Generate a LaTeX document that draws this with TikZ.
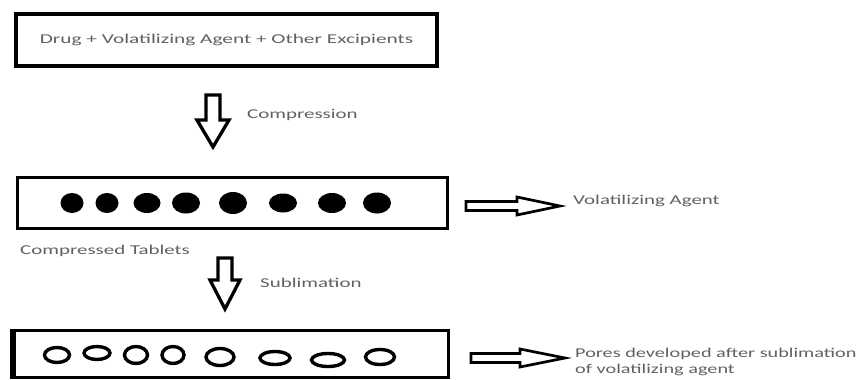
\documentclass[tikz,border=0pt]{standalone}
\usepackage{graphicx}
\usepackage{fontspec}
\setmainfont{Carlito}
\newcommand{\wide}[2][1.55]{\scalebox{#1}[1]{#2}}
\begin{document}
\begin{tikzpicture}[x=1pt,y=-1pt,
  box/.style={draw=black, line width=3.5pt, inner sep=0pt, text=black!62,
    font=\fontsize{13.5}{16}\selectfont},
  lbl/.style={text=black!62, font=\fontsize{13.5}{16}\selectfont, inner sep=0pt, anchor=west},
  blockarrow/.style={draw=black, line width=3.3pt, line join=miter, fill=white},
  pore/.style={draw=black, line width=3.4pt}]
\useasboundingbox (0,0) rectangle (863,380);

% boxes
\node[box, minimum width=421pt, minimum height=52pt] (mix) at (226.5,40)
  {\wide[1.58]{Drug + Volatilizing Agent + Other Excipients}};
\node[box, minimum width=430pt, minimum height=51pt, line width=3pt] (tab) at (232,202.5) {};
\node[box, minimum width=434pt, minimum height=47pt, line width=3pt] (por) at (231,354) {};
\draw[line width=4.5pt] (por.north west) -- (por.south west);

% filled dots (volatilizing agent)
\foreach \x/\rx/\ry in {72/11.5/10, 107/11.5/10, 147/13.5/10, 186/14/10.5, 233/14/11, 283/14/9.5, 332/14/10, 377/14/10.5}
  \fill (\x,203) ellipse [x radius=\rx, y radius=\ry];

% open pores
\foreach \x/\y/\rx/\ry in {57/355/12.5/7.5, 97/353/13/6.5, 136/355/11.5/8.5, 173/355/11/8.5, 220/357/14/8.5, 275/358/15/6.5, 328/360/16.5/6.5, 380/357/14.5/7.5}
  \draw[pore] (\x,\y) ellipse [x radius=\rx, y radius=\ry];

% down arrows
\coordinate (d1) at (213,95);
\draw[blockarrow] (d1) ++(-7,0) -- ++(0,25) -- ++(-9,0) -- ++(16,27) -- ++(16,-27) -- ++(-9,0) -- ++(0,-25) -- cycle;
\coordinate (d2) at (225,258);
\draw[blockarrow] (d2) ++(-7,0) -- ++(0,22) -- ++(-8,0) -- ++(15,29) -- ++(15,-29) -- ++(-8,0) -- ++(0,-22) -- cycle;

% right arrows
\coordinate (r1) at (466,206);
\draw[blockarrow, line width=2.7pt] (r1) ++(0,-4.5) -- ++(51,0) -- ++(0,-4.5) -- ++(43,9) -- ++(-43,9) -- ++(0,-4.5) -- ++(-51,0) -- cycle;
\coordinate (r2) at (471,358);
\draw[blockarrow, line width=2.7pt] (r2) ++(0,-4.5) -- ++(49,0) -- ++(0,-4.5) -- ++(45,9) -- ++(-45,9) -- ++(0,-4.5) -- ++(-49,0) -- cycle;

% labels
\node[lbl] (comp) at (247,115) {\wide{Compression}};
\node[lbl] (subl) at (260,283) {\wide{Sublimation}};
\node[lbl] (ctab) at (20,251) {\wide{Compressed Tablets}};
\node[lbl] (vola) at (573,201) {\wide{Volatilizing Agent}};
\node[lbl, align=left] (pdev) at (575,362) {\wide[1.5]{Pores developed after sublimation}\\\wide[1.5]{of volatilizing agent}};
\end{tikzpicture}
\end{document}
